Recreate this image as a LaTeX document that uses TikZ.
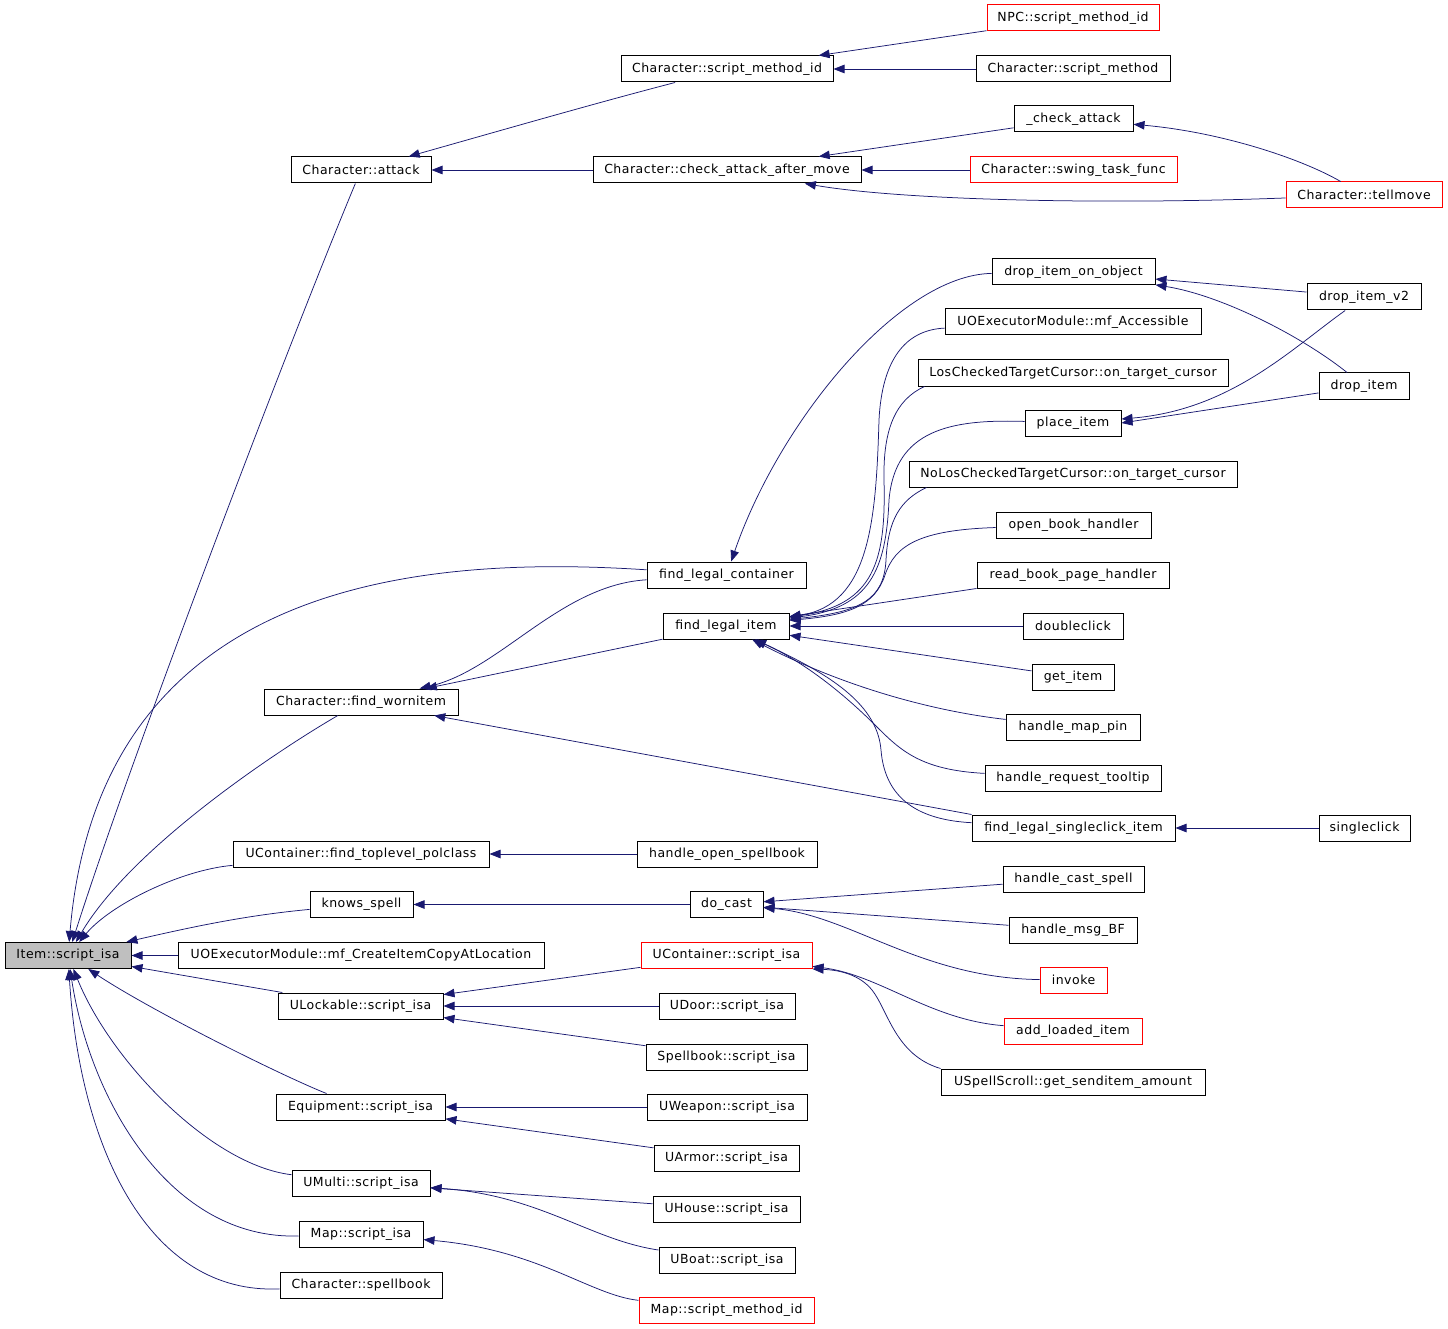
\documentclass[tikz,border=0pt]{standalone}
\usepackage{fontspec}
\setmainfont{DejaVu Sans}[LetterSpace=4]
\usetikzlibrary{arrows.meta}
\definecolor{edgeblue}{RGB}{25,25,112}
\definecolor{rootgrey}{RGB}{191,191,191}

\begin{document}
\begin{tikzpicture}[x=1pt,y=-1pt,
    fn/.style={draw,shape=rectangle,line width=1pt,minimum height=26pt,inner sep=0pt,font=\fontsize{12.5}{14}\selectfont},
    fnred/.style={fn,draw=red},
    call/.style={edgeblue,line width=0.75pt,-{Triangle[length=11pt,width=8.5pt]}}]
    \useasboundingbox (0,0) rectangle (1448,1329);

    % root and first column
    \draw (68,955.5) node (I) [fn,fill=rootgrey,minimum width=126pt] {Item::script\_isa};
    \draw (361,170) node (CA) [fn,minimum width=140pt] {Character::attack};
    \draw (361,702) node (FW) [fn,minimum width=194pt] {Character::find\_wornitem};
    \draw (361,854) node (TP) [fn,minimum width=256pt] {UContainer::find\_toplevel\_polclass};
    \draw (361.5,904.5) node (KS) [fn,minimum width=103pt] {knows\_spell};
    \draw (361,955.5) node (CC) [fn,minimum width=366pt] {UOExecutorModule::mf\_CreateItemCopyAtLocation};
    \draw (360.5,1006) node (UL) [fn,minimum width=165pt] {ULockable::script\_isa};
    \draw (360.5,1107) node (EQ) [fn,minimum width=169pt] {Equipment::script\_isa};
    \draw (361,1183) node (UM) [fn,minimum width=138pt] {UMulti::script\_isa};
    \draw (361,1234) node (MI) [fn,minimum width=124pt] {Map::script\_isa};
    \draw (361,1285) node (SB) [fn,minimum width=162pt] {Character::spellbook};

    % second column
    \draw (727,69) node (CM) [fn,minimum width=212pt] {Character::script\_method\_id};
    \draw (727,170) node (AM) [fn,minimum width=268pt] {Character::check\_attack\_after\_move};
    \draw (726.5,575) node (LC) [fn,minimum width=159pt] {find\_legal\_container};
    \draw (726,626) node (LI) [fn,minimum width=126pt] {find\_legal\_item};
    \draw (727,854) node (OS) [fn,minimum width=180pt] {handle\_open\_spellbook};
    \draw (726.5,904.5) node (DC) [fn,minimum width=73pt] {do\_cast};
    \draw (726.5,955.5) node (UC) [fnred,minimum width=171pt] {UContainer::script\_isa};
    \draw (727,1006) node (UD) [fn,minimum width=136pt] {UDoor::script\_isa};
    \draw (726.5,1057) node (SI) [fn,minimum width=161pt] {Spellbook::script\_isa};
    \draw (727,1107) node (UW) [fn,minimum width=160pt] {UWeapon::script\_isa};
    \draw (726.5,1158) node (UA) [fn,minimum width=145pt] {UArmor::script\_isa};
    \draw (726.5,1209) node (UH) [fn,minimum width=147pt] {UHouse::script\_isa};
    \draw (727,1260) node (UB) [fn,minimum width=136pt] {UBoat::script\_isa};
    \draw (726.5,1310) node (MM) [fnred,minimum width=175pt] {Map::script\_method\_id};

    % third column
    \draw (1073,18) node (NM) [fnred,minimum width=172pt] {NPC::script\_method\_id};
    \draw (1073,69) node (CS) [fn,minimum width=194pt] {Character::script\_method};
    \draw (1073.5,119) node (CK) [fn,minimum width=119pt] {\_check\_attack};
    \draw (1073.5,170) node (SW) [fnred,minimum width=207pt] {Character::swing\_task\_func};
    \draw (1073.5,272) node (DO) [fn,minimum width=163pt] {drop\_item\_on\_object};
    \draw (1073,322) node (MA) [fn,minimum width=256pt] {UOExecutorModule::mf\_Accessible};
    \draw (1073,373) node (LT) [fn,minimum width=310pt] {LosCheckedTargetCursor::on\_target\_cursor};
    \draw (1073,423) node (PI) [fn,minimum width=96pt] {place\_item};
    \draw (1073,474) node (NT) [fn,minimum width=328pt] {NoLosCheckedTargetCursor::on\_target\_cursor};
    \draw (1073.5,525) node (OB) [fn,minimum width=155pt] {open\_book\_handler};
    \draw (1073,575) node (RB) [fn,minimum width=192pt] {read\_book\_page\_handler};
    \draw (1073,626) node (DB) [fn,minimum width=100pt] {doubleclick};
    \draw (1073,677) node (GI) [fn,minimum width=82pt] {get\_item};
    \draw (1073,727) node (MP) [fn,minimum width=134pt] {handle\_map\_pin};
    \draw (1073,778) node (RT) [fn,minimum width=176pt] {handle\_request\_tooltip};
    \draw (1073.5,828) node (LS) [fn,minimum width=203pt] {find\_legal\_singleclick\_item};
    \draw (1073.5,879) node (HC) [fn,minimum width=141pt] {handle\_cast\_spell};
    \draw (1073,930) node (HB) [fn,minimum width=128pt] {handle\_msg\_BF};
    \draw (1073.5,980) node (IV) [fnred,minimum width=67pt] {invoke};
    \draw (1073,1031) node (AL) [fnred,minimum width=138pt] {add\_loaded\_item};
    \draw (1073,1082) node (SS) [fn,minimum width=264pt] {USpellScroll::get\_senditem\_amount};

    % fourth column
    \draw (1364,195) node (TM) [fnred,minimum width=156pt] {Character::tellmove};
    \draw (1364,297) node (D2) [fn,minimum width=114pt] {drop\_item\_v2};
    \draw (1364,386) node (DI) [fn,minimum width=90pt] {drop\_item};
    \draw (1364.5,828) node (SC) [fn,minimum width=91pt] {singleclick};

    % calls into the first column
    \draw[call] (CM) .. controls (600,102) and (520,125) .. (CA);
    \draw[call] (NM) -- (CM);
    \draw[call] (CS) -- (CM);
    \draw[call] (AM) -- (CA);
    \draw[call] (CK) -- (AM);
    \draw[call] (SW) -- (AM);
    \draw[call] (TM) .. controls (1100,205) and (900,200) .. (AM);
    \draw[call] (TM) .. controls (1300,158) and (1220,132) .. (CK);
    \draw[call] (CA) .. controls (290,340) and (130,760) .. (I);
    \draw[call] (LC) .. controls (420,555) and (100,580) .. (I);
    \draw[call] (LC) .. controls (560,585) and (500,670) .. (FW);
    \draw[call] (LI) -- (FW);
    \draw[call] (FW) .. controls (270,755) and (130,850) .. (I);

    % drop / place
    \draw[call] (DO) .. controls (900,275) and (780,420) .. (LC);
    \draw[call] (D2) -- (DO);
    \draw[call] (DI) .. controls (1300,335) and (1220,295) .. (DO);
    \draw[call] (D2) .. controls (1290,350) and (1230,410) .. (PI);
    \draw[call] (DI) -- (PI.east);

    % callers of find_legal_item
    \draw[call] (MA) .. controls (905,330) and (882,360) .. (879,420) .. controls (876,520) and (870,605) .. (LI);
    \draw[call] ([xshift=7pt]LT.south west) .. controls (895,400) and (883,430) .. (884,480) .. controls (886,560) and (875,605) .. (LI);
    \draw[call] (PI) .. controls (950,419) and (895,430) .. (889,500) .. controls (886,570) and (870,608) .. (LI);
    \draw[call] ([xshift=18pt]NT.south west) .. controls (900,500) and (888,520) .. (886,560) .. controls (884,600) and (860,612) .. (LI);
    \draw[call] (OB) .. controls (920,530) and (895,545) .. (885,575) .. controls (875,605) and (850,615) .. (LI);
    \draw[call] (RB.south west) -- (LI);
    \draw[call] (DB) -- (LI);
    \draw[call] (GI) -- (LI);
    \draw[call] (MP) .. controls (940,712) and (850,690) .. (LI);
    \draw[call] (RT) .. controls (920,770) and (900,750) .. (875,725) .. controls (850,700) and (810,665) .. (LI);
    \draw[call] (LS) .. controls (920,820) and (885,800) .. (881,750) .. controls (877,700) and (820,670) .. (LI);
    \draw[call] (LS.north west) -- (FW);
    \draw[call] (SC) -- (LS);

    % spells
    \draw[call] (TP) .. controls (180,870) and (110,905) .. (I);
    \draw[call] (OS) -- (TP);
    \draw[call] (KS) .. controls (250,915) and (200,925) .. (I);
    \draw[call] (DC) -- (KS);
    \draw[call] (HC) -- (DC);
    \draw[call] (HB) -- (DC);
    \draw[call] (IV) .. controls (920,978) and (850,915) .. (DC);
    \draw[call] (CC) -- (I);

    % script_isa family
    \draw[call] (UL) -- (I);
    \draw[call] (UC) -- (UL);
    \draw[call] (UD) -- (UL);
    \draw[call] (SI) -- (UL);
    \draw[call] (AL) .. controls (930,1020) and (880,975) .. (UC);
    \draw[call] (SS.north west) .. controls (895,1055) and (888,1010) .. (872,990) .. controls (860,975) and (840,970) .. (UC.south east);
    \draw[call] (EQ) .. controls (280,1075) and (150,1010) .. (I);
    \draw[call] (UW) -- (EQ);
    \draw[call] (UA) -- (EQ);
    \draw[call] (UM) .. controls (210,1165) and (110,1060) .. (I);
    \draw[call] (UH) -- (UM);
    \draw[call] (UB) .. controls (590,1240) and (540,1195) .. (UM);
    \draw[call] (MI) .. controls (170,1240) and (90,1100) .. (I);
    \draw[call] (MM) .. controls (590,1295) and (540,1250) .. (MI);
    \draw[call] (SB) .. controls (150,1295) and (80,1150) .. (I);
\end{tikzpicture}
\end{document}
